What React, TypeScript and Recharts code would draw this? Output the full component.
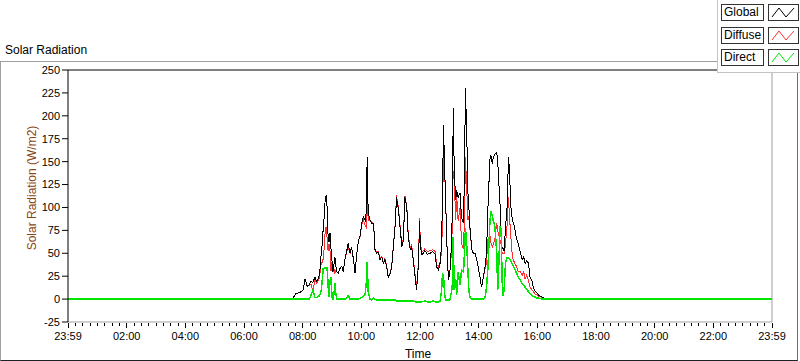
import React from 'react';
import { LineChart, Line, XAxis, YAxis, Legend, ReferenceLine } from 'recharts';

// minutes since midnight, day runs from 23:59 the evening before (-1) to 23:59 (1439)
const times = [
    -1, 455, 459, 465, 471, 476, 480, 484, 488, 492,
    496, 500, 504, 508, 512, 515, 517, 519, 521, 523,
    525, 527, 529, 531, 533, 535, 537, 539, 541, 543,
    545, 547, 549, 552, 555, 559, 562, 566, 569, 572,
    576, 579, 583, 586, 590, 593, 596, 600, 603, 607,
    609, 611, 613, 617, 620, 624, 627, 630, 634, 637,
    641, 644, 647, 651, 654, 658, 661, 664, 668, 671,
    675, 678, 682, 685, 688, 692, 695, 699, 702, 705,
    709, 712, 716, 718, 720, 723, 729, 734, 740, 745,
    750, 753, 757, 760, 763, 765, 767, 770, 772, 774,
    777, 780, 784, 786, 787, 789, 792, 794, 797, 801,
    804, 808, 810, 812, 815, 817, 819, 821, 825, 828,
    832, 835, 838, 842, 845, 848, 852, 855, 858, 862,
    864, 867, 869, 872, 876, 878, 880, 883, 885, 887,
    889, 891, 894, 897, 900, 902, 905, 908, 912, 916,
    920, 924, 928, 931, 934, 937, 941, 944, 948, 951,
    955, 958, 962, 969, 975, 1439,
];

const globalRad = [
    0, 0, 1, 6, 7, 8, 10, 22, 14, 15,
    20, 18, 24, 19, 24, 35, 50, 60, 77, 89,
    108, 113, 100, 68, 62, 72, 55, 42, 30, 38,
    46, 36, 30, 28, 33, 36, 30, 45, 52, 61,
    50, 57, 43, 28, 51, 64, 68, 83, 90, 86,
    95, 155, 94, 86, 83, 83, 54, 50, 51, 43,
    46, 39, 43, 35, 24, 28, 35, 54, 79, 111,
    97, 79, 57, 64, 111, 100, 68, 54, 57, 43,
    24, 10, 39, 85, 57, 48, 53, 49, 50, 52,
    49, 35, 32, 39, 57, 111, 190, 133, 97, 61,
    21, 28, 64, 141, 208, 141, 108, 119, 111, 116,
    89, 83, 141, 230, 170, 116, 100, 79, 54, 50,
    50, 43, 35, 23, 13, 22, 35, 50, 100, 152,
    157, 148, 155, 158, 160, 150, 130, 100, 70, 55,
    55, 52, 79, 100, 155, 140, 100, 86, 80, 67,
    60, 52, 43, 46, 39, 42, 39, 24, 20, 12,
    8, 7, 4, 2, 0, 0,
];

const diffuseRad = [
    0, 0, 1, 6, 7, 8, 10, 22, 14, 15,
    16, 8, 22, 17, 21, 30, 40, 40, 44, 55,
    74, 79, 66, 53, 60, 52, 31, 40, 30, 33,
    28, 31, 30, 28, 33, 36, 30, 45, 51, 57,
    50, 57, 43, 28, 51, 64, 67, 81, 87, 80,
    78, 115, 86, 86, 84, 82, 54, 51, 52, 44,
    47, 40, 44, 36, 25, 29, 36, 55, 80, 113,
    99, 81, 59, 66, 113, 102, 70, 56, 59, 45,
    27, 13, 42, 88, 60, 51, 55, 52, 53, 54,
    52, 38, 35, 41, 50, 85, 165, 131, 98, 62,
    22, 29, 55, 120, 140, 131, 86, 114, 85, 100,
    60, 55, 91, 155, 115, 86, 90, 77, 54, 50,
    50, 43, 35, 23, 13, 22, 33, 40, 65, 70,
    62, 57, 60, 65, 83, 75, 70, 64, 60, 50,
    50, 50, 60, 80, 111, 90, 67, 46, 40, 36,
    30, 30, 26, 30, 22, 26, 20, 13, 10, 8,
    5, 5, 3, 2, 0, 0,
];

const directRad = [
    0, 0, 0, 0, 0, 0, 0, 0, 0, 0,
    4, 10, 2, 2, 3, 5, 10, 20, 33, 34,
    34, 34, 34, 15, 2, 20, 24, 2, 0, 5,
    18, 5, 0, 0, 0, 0, 0, 0, 1, 4,
    0, 0, 0, 0, 0, 0, 1, 2, 3, 6,
    17, 40, 8, 0, -1, 1, 0, -1, -1, -1,
    -1, -1, -1, -1, -1, -1, -1, -1, -1, -2,
    -2, -2, -2, -2, -2, -2, -2, -2, -2, -2,
    -3, -3, -3, -3, -3, -3, -2, -3, -3, -2,
    -3, -3, -3, -2, 8, 28, 25, 2, -1, -1,
    -1, -1, 10, 20, 68, 10, 22, 5, 30, 15,
    32, 30, 50, 78, 55, 30, 10, 2, 0, 0,
    0, 0, 0, 0, 0, 0, 2, 12, 35, 85,
    96, 90, 85, 80, 50, 10, 35, 80, 75, 20,
    3, 10, 40, 45, 45, 44, 41, 38, 34, 29,
    24, 21, 17, 15, 13, 11, 8, 6, 4, 3,
    2, 1, 1, 0, 0, 0,
];

const yTicks = [-25, 0, 25, 50, 75, 100, 125, 150, 175, 200, 225, 250];
const xLabels = ['23:59', '02:00', '04:00', '06:00', '08:00', '10:00', '12:00', '14:00', '16:00', '18:00', '20:00', '22:00', '23:59'];

const series = [
    { key: 'Global', color: '#000000' },
    { key: 'Diffuse', color: '#ff3030' },
    { key: 'Direct', color: '#00e600' },
];

const data = times.map((t, i) => ({ t, Global: globalRad[i], Diffuse: diffuseRad[i], Direct: directRad[i] }));

const FONT = '"Liberation Sans", Arial, sans-serif';
const START = -1;
const MAJOR = 120;
const MINOR = 15;
const xTicks: number[] = [];
for (let v = START; v <= START + 1440; v += MINOR) xTicks.push(v);

const TimeTick = (props: any) => {
    const { x, y, payload } = props;
    const off = payload.value - START;
    const major = off % MAJOR === 0;
    return (
        <g>
            <line x1={x} x2={x} y1={y + 1} y2={y + (major ? 6 : 4)} stroke="#000" shapeRendering="crispEdges" />
            {major && (
                <text x={x} y={y + 18} textAnchor="middle" fontSize={11} fontFamily={FONT} fill="#000">
                    {xLabels[off / MAJOR]}
                </text>
            )}
        </g>
    );
};

const LegendPanel = () => (
    <div style={{ width: 83, height: 73, background: '#fff', borderLeft: '1px solid #c4c4c4', borderBottom: '1px solid #c4c4c4', boxSizing: 'border-box', position: 'relative', fontFamily: FONT }}>
        {series.map((s, i) => (
            <React.Fragment key={s.key}>
                <div style={{ position: 'absolute', left: 3, top: 4 + i * 22.5, width: 43, height: 17, border: '1px solid #333', boxSizing: 'border-box', fontSize: 12, lineHeight: '15px', paddingLeft: 2, color: '#000' }}>
                    {s.key}
                </div>
                <div style={{ position: 'absolute', left: 50, top: 4 + i * 22.5, width: 31, height: 17, border: '1px solid #333', boxSizing: 'border-box' }}>
                    <svg width={29} height={15} style={{ display: 'block' }}>
                        <polyline points="3,12 10,3 17,12 25,3" fill="none" stroke={s.color} strokeWidth={1} />
                    </svg>
                </div>
            </React.Fragment>
        ))}
    </div>
);

const App: React.FC = () => {
    return (
        <div style={{ position: 'absolute', left: 0, top: 0, width: 800, height: 361, background: '#fff', fontFamily: FONT }}>
            <div style={{ position: 'absolute', left: 5, top: 43, fontSize: 12, color: '#000' }}>Solar Radiation</div>
            <div style={{ position: 'absolute', left: 0, top: 61, width: 798, height: 300, boxSizing: 'border-box', borderTop: '1px solid #a0a0a0', borderLeft: '1px solid #a0a0a0', borderRight: '1px solid #6e6e6e', borderBottom: '1px solid #202020' }} />
            <div style={{ position: 'absolute', left: 0, top: 0 }}>
                <LineChart width={800} height={361} data={data} margin={{ top: 70, right: 28, bottom: 0, left: 0 }}>
                    <XAxis
                        dataKey="t"
                        type="number"
                        domain={[-1, 1439]}
                        ticks={xTicks}
                        interval={0}
                        tick={<TimeTick />}
                        tickLine={false}
                        tickSize={0}
                        tickMargin={0}
                        height={39}
                        axisLine={{ stroke: '#a0a0a0' }}
                        label={{
                            content: ({ viewBox }: any) => (
                                <text x={viewBox.x + viewBox.width / 2 - 2} y={viewBox.y + 36} textAnchor="middle" fontSize={12} fontFamily={FONT} fill="#000">Time</text>
                            ),
                        }}
                    />
                    <YAxis
                        type="number"
                        domain={[-25, 250]}
                        ticks={yTicks}
                        interval={0}
                        width={68}
                        tickSize={6}
                        tickMargin={2}
                        tick={{ fill: '#000', fontSize: 11, fontFamily: FONT }}
                        tickLine={{ stroke: '#000' }}
                        axisLine={{ stroke: '#000' }}
                        label={{
                            content: ({ viewBox }: any) => {
                                const cx = viewBox.x + 32;
                                const cy = viewBox.y + viewBox.height / 2 - 8;
                                return (
                                    <text x={cx} y={cy} transform={`rotate(-90 ${cx} ${cy})`} textAnchor="middle" dominantBaseline="central" fontSize={12} fontFamily={FONT} fill="#8a4513">
                                        Solar Radiation (W/m2)
                                    </text>
                                );
                            },
                        }}
                    />
                    <ReferenceLine y={250} stroke="#000" />
                    <ReferenceLine x={1439} stroke="#a0a0a0" />
                    <Line dataKey="Diffuse" stroke="#ff3030" strokeWidth={1} dot={false} type="linear" shapeRendering="crispEdges" isAnimationActive={false} />
                    <Line dataKey="Global" stroke="#000000" strokeWidth={1} dot={false} type="linear" shapeRendering="crispEdges" isAnimationActive={false} />
                    <Line dataKey="Direct" stroke="#00e600" strokeWidth={1.5} dot={false} type="linear" shapeRendering="crispEdges" isAnimationActive={false} />
                    <Legend
                        layout="horizontal"
                        verticalAlign="middle"
                        align="center"
                        content={<LegendPanel />}
                        wrapperStyle={{ left: 717, top: 0, width: 83, height: 73 }}
                    />
                </LineChart>
            </div>
        </div>
    );
};

export default App;
